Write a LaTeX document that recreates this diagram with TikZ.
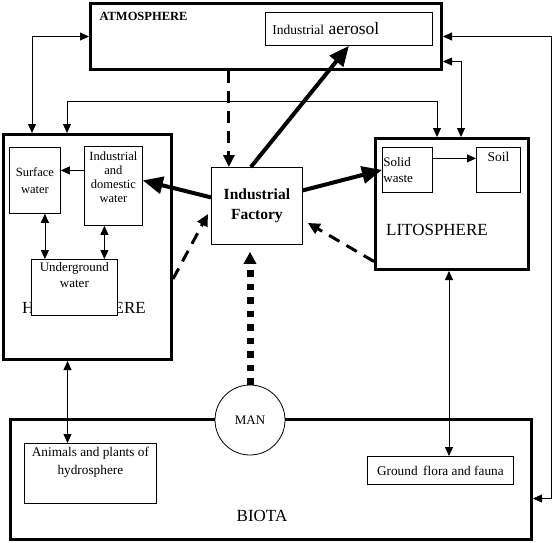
\documentclass[tikz,border=0pt]{standalone}
\usepackage{fontspec}
\setmainfont{Liberation Serif}
\usetikzlibrary{arrows.meta}
\usetikzlibrary{positioning}

\begin{document}
\begin{tikzpicture}[
	x=1pt, y=-1pt,
	>={Triangle[length=9pt,width=8pt]},
	outer/.style={rectangle, draw, line width=3pt, inner sep=0pt, anchor=north west},
	sbox/.style={rectangle, draw, fill=white, line width=0.8pt, inner sep=1pt, anchor=north west, align=center, font=\fontsize{12.5}{17}\selectfont},
	inlabel/.style={anchor=north, align=center, inner sep=3pt, font=\fontsize{13}{16}\selectfont},
	title/.style={font=\fontsize{17}{20}\selectfont},
	flow/.style={line width=0.8pt},
	heavy/.style={line width=4pt, -{Triangle[length=20pt,width=17pt]}},
	leak/.style={line width=3pt, dash pattern=on 12pt off 8pt, -{Triangle[length=12pt,width=11pt]}},
	feed/.style={line width=7pt, dash pattern=on 6.5pt off 7pt, -{Triangle[length=12pt,width=12pt]}},
	]
	\useasboundingbox (0,0) rectangle (552,542);

	% atmosphere
	\node[outer, minimum width=351pt, minimum height=66pt] (Atm) at (89,2) {};
	\node[anchor=west, font=\bfseries\fontsize{12.5}{14}\selectfont] (AtmT) at (96,16) {ATMOSPHERE};
	\node[sbox, minimum width=167pt, minimum height=33pt, text width=153pt, align=left, inner xsep=7pt, font=\fontsize{13.5}{15}\selectfont] (Aero) at (265,12) {Industrial {\fontsize{17.5}{18}\selectfont aerosol}};

	% hydrosphere
	\node[outer, minimum width=168pt, minimum height=225pt] (Hydro) at (2,133) {};
	\node[title] (HydroT) at (84,308) {HYDROSPHERE};
	\node[sbox, minimum width=51pt, minimum height=66pt] (SurfW) at (9,147) {Surface\\water};
	\node[sbox, minimum width=58pt, minimum height=79pt, font=\fontsize{12.5}{14}\selectfont] (IndW) at (84,146) {Industrial\\and\\domestic\\water\\[4pt]};
	\node[sbox, minimum width=86pt, minimum height=56pt, label={[inlabel]north:Underground\\water}] (UndW) at (31,259) {};

	% factory
	\node[sbox, minimum width=91pt, minimum height=77pt, font=\bfseries\fontsize{15.5}{20}\selectfont] (Fact) at (211,167) {Industrial\\Factory};

	% litosphere
	\node[outer, minimum width=153pt, minimum height=131pt] (Lito) at (374,137) {};
	\node[title] (LitoT) at (437,230) {LITOSPHERE};
	\node[sbox, minimum width=50pt, minimum height=45pt, text width=48pt, align=left, inner xsep=1pt, font=\fontsize{13}{16}\selectfont] (SolW) at (382,147) {Solid\\waste};
	\node[sbox, minimum width=44pt, minimum height=45pt, label={[inlabel, inner sep=5pt, font=\fontsize{13.5}{16}\selectfont]north:Soil}] (Soil) at (476,147) {};

	% biota
	\node[outer, minimum width=521pt, minimum height=120pt] (Biota) at (9,418) {};
	\node[title] (BiotaT) at (262,516) {BIOTA};
	\node[sbox, minimum width=132pt, minimum height=60pt, label={[inlabel, inner sep=4pt, font=\fontsize{13.3}{18}\selectfont]north:Animals and plants of\\hydrosphere}] (Anim) at (24,443) {};
	\node[sbox, minimum width=146pt, minimum height=28pt, font=\fontsize{13.3}{15}\selectfont] (Flora) at (367,456) {Ground\, flora and fauna};
	\node[circle, draw, fill=white, line width=0.8pt, minimum size=70pt, inner sep=0pt, font=\fontsize{13}{14}\selectfont] (Man) at (250,420) {MAN};

	% exchanges between spheres
	\draw[flow,<->] ([xshift=30pt]Hydro.north west) |- (Atm.west);
	\draw[flow,<->] ([xshift=65pt]Hydro.north west) -- ++(0,-32) -| ([xshift=63pt]Lito.north west);
	\draw[flow,<->] ([yshift=-25pt]Atm.east) -| ([xshift=87pt]Lito.north west);
	\draw[flow,<->] (Atm.east) -- ++(108,0) |- ([yshift=-19pt]Biota.east);
	\draw[flow,<->] ([xshift=-20pt]Hydro.south) -- ([xshift=-20pt]Hydro.south |- Anim.north);
	\draw[flow,<->] ([xshift=-3pt]Lito.south) -- ([xshift=-3pt]Lito.south |- Flora.north);

	% inside the spheres
	\draw[flow,->] ([yshift=10pt]SurfW.east -| IndW.west) -- ([yshift=10pt]SurfW.east);
	\draw[flow,<->] ([xshift=10pt]SurfW.south) -- ([xshift=10pt]SurfW.south |- UndW.north);
	\draw[flow,<->] ([xshift=-9pt]IndW.south) -- ([xshift=-9pt]IndW.south |- UndW.north);
	\draw[flow,->] ([yshift=11.5pt]SolW.east) -- ([yshift=11.5pt]SolW.east -| Soil.west);

	% factory flows
	\draw[heavy] ([xshift=-6pt]Fact.north) -- (Aero.south);
	\draw[heavy] ([yshift=8.5pt]Fact.west) -- ([yshift=5.5pt]IndW.east);
	\draw[heavy] ([yshift=15.5pt]Fact.east) -- (SolW.west);
	\draw[leak] ([xshift=-28pt]Fact.north |- Atm.south) -- ([xshift=-28pt]Fact.north);
	\draw[leak] ([yshift=-32pt]Hydro.east) -- ([xshift=-3pt,yshift=-8pt]Fact.west);
	\draw[leak] ([yshift=-57.5pt]Lito.west) -- ([xshift=5pt,yshift=-17pt]Fact.east);
	\draw[feed, shorten >=7pt] (Man.north) -- (Man.north |- Fact.south);

\end{tikzpicture}
\end{document}
